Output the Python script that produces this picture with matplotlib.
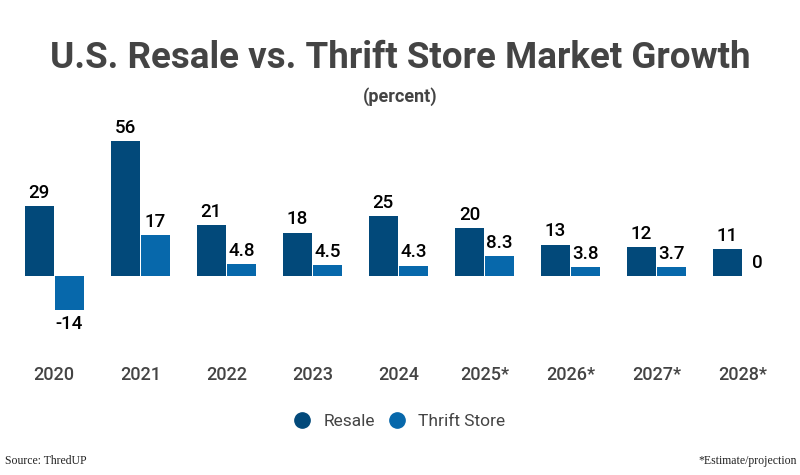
import numpy as np
import matplotlib.pyplot as plt

# data
years = ["2020", "2021", "2022", "2023", "2024", "2025*", "2026*", "2027*", "2028*"]
resale = [29, 56, 21, 18, 25, 20, 13, 12, 11]
thrift = [-14, 17, 4.8, 4.5, 4.3, 8.3, 3.8, 3.7, 0]
resale_labels = ["29", "56", "21", "18", "25", "20", "13", "12", "11"]
thrift_labels = ["-14", "17", "4.8", "4.5", "4.3", "8.3", "3.8", "3.7", "0"]

C_RESALE = "#02497a"
C_THRIFT = "#0768ab"
GREY = "#444444"

plt.rcParams['font.family'] = ['Roboto', 'DejaVu Sans']

fig = plt.figure(figsize=(8, 4.75), dpi=100)
ax = fig.add_axes([0.014, 0.2465, 0.968, 0.487])

x = np.arange(len(years))
w = 0.34
off = 0.175
ax.bar(x - off, resale, w, color=C_RESALE)
ax.bar(x + off, thrift, w, color=C_THRIFT)

for i in range(len(years)):
    ax.annotate(resale_labels[i], (x[i] - off, resale[i]), xytext=(0, 3),
                textcoords="offset points", ha="center", va="bottom",
                fontsize=13.5, fontweight="medium", color="black")
    v = thrift[i]
    if v < 0:
        ax.annotate(thrift_labels[i], (x[i] + off, v), xytext=(0, -4),
                    textcoords="offset points", ha="center", va="top",
                    fontsize=13.5, fontweight="medium", color="black")
    else:
        ax.annotate(thrift_labels[i], (x[i] + off, v), xytext=(0, 3),
                    textcoords="offset points", ha="center", va="bottom",
                    fontsize=13.5, fontweight="medium", color="black")

ax.set_xlim(-0.5, len(years) - 0.5)
ax.set_ylim(-34, 62)
ax.set_xticks(x)
ax.set_xticklabels(years, fontsize=13, color=GREY, fontweight="medium")
ax.tick_params(axis="x", length=0, pad=6)
ax.set_yticks([])
for s in ax.spines.values():
    s.set_visible(False)

fig.text(0.5, 0.878, "U.S. Resale vs. Thrift Store Market Growth", ha="center", va="center",
         fontsize=26.5, fontweight="bold", color=GREY)
fig.text(0.5, 0.797, "(percent)", ha="center", va="center",
         fontsize=13, fontweight="bold", color=GREY)

h1 = plt.Line2D([], [], marker="o", linestyle="none", markersize=11, color=C_RESALE)
h2 = plt.Line2D([], [], marker="o", linestyle="none", markersize=11, color=C_THRIFT)
fig.legend([h1, h2], ["Resale", "Thrift Store"], loc="center", bbox_to_anchor=(0.494, 0.113),
           ncol=2, frameon=False, fontsize=12.5, handletextpad=0.2, columnspacing=0.3,
           labelcolor=GREY)

fig.text(0.006, 0.03, "Source: ThredUP", ha="left", va="center",
         fontsize=8.5, family="Liberation Serif", color="#222222")
fig.text(0.996, 0.03, "*Estimate/projection", ha="right", va="center",
         fontsize=8.5, family="Liberation Serif", color="#222222")

fig.savefig("out.png", dpi=100)
plt.close(fig)
